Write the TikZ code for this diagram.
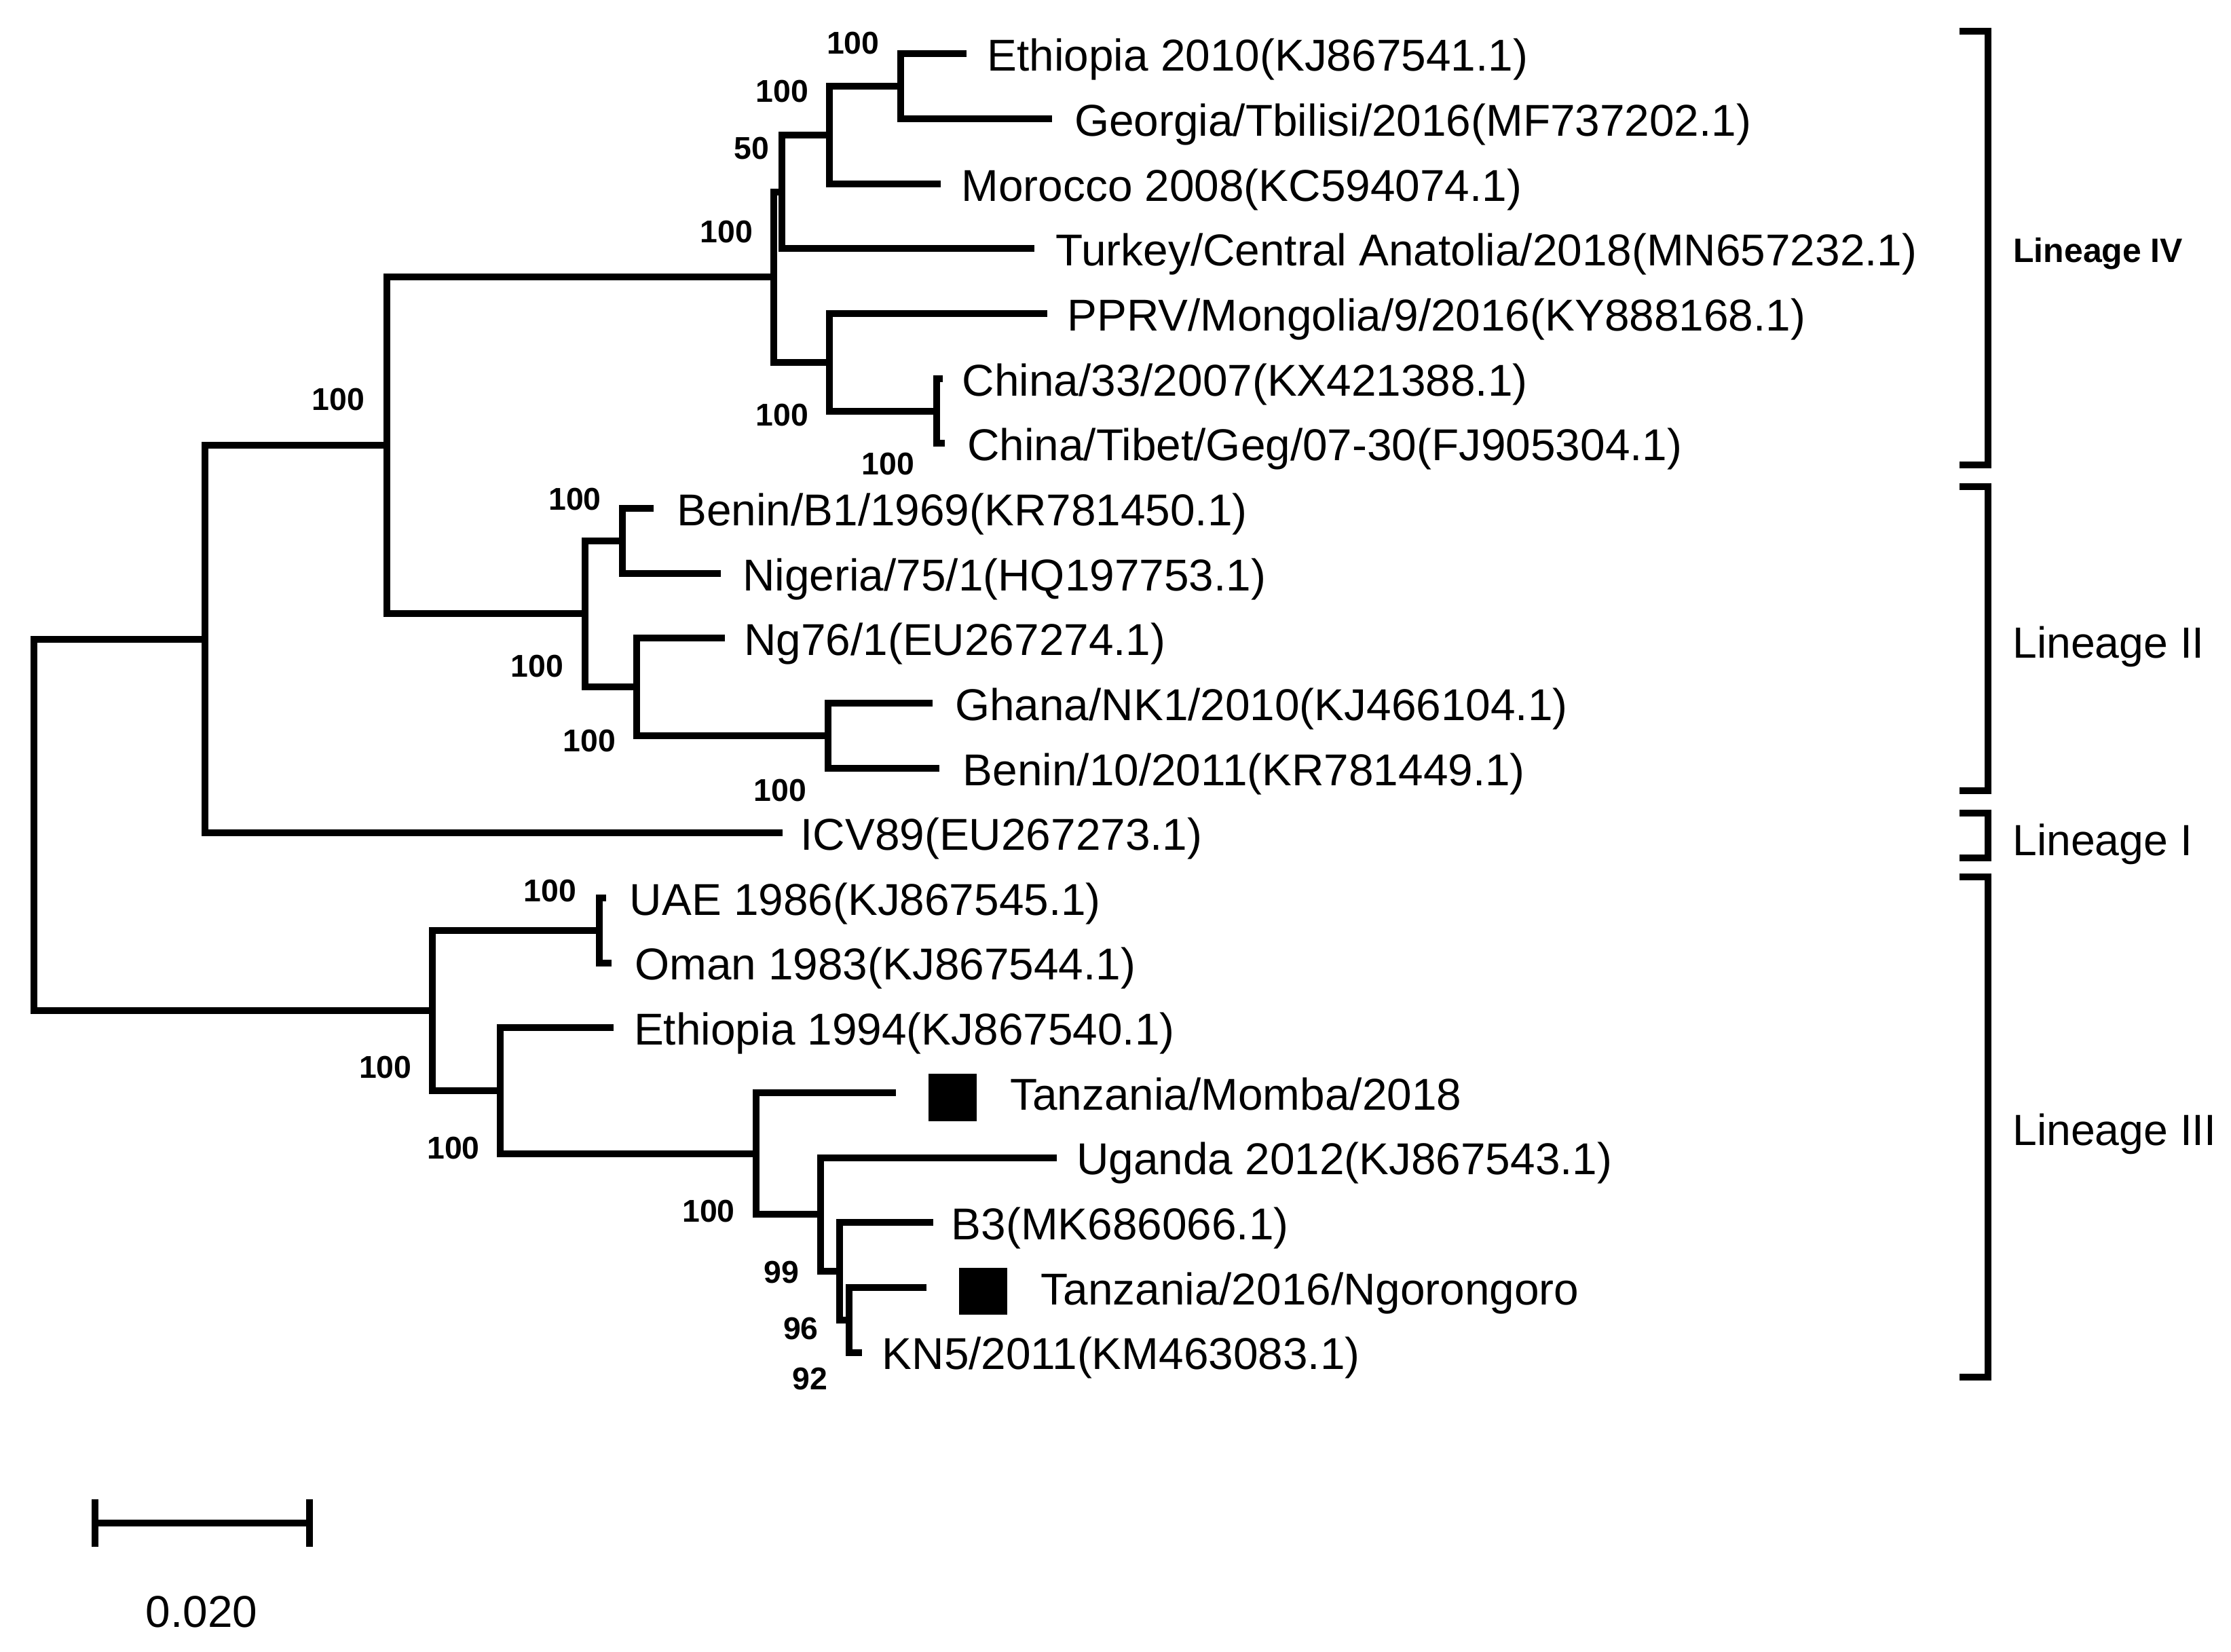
\documentclass[tikz,border=0pt]{standalone}
\usepackage{fontspec}
\newfontfamily\lsans{Liberation Sans}
\newcommand\leaffont{\lsans\fontsize{18.7}{22}\selectfont}
\newcommand\linfont{\lsans\fontsize{18.3}{22}\selectfont}
\newcommand\bsfont{\lsans\bfseries\fontsize{13.2}{15}\selectfont}
\newcommand\livfont{\lsans\bfseries\fontsize{14.2}{16}\selectfont}
\tikzset{
  br/.style={line width=0.1cm, line join=miter, line cap=butt},
  leaf/.style={anchor=base west, inner sep=0pt, font=\leaffont},
  lin/.style={anchor=base west, inner sep=0pt, font=\linfont},
  bs/.style={anchor=center, inner sep=0pt, font=\bsfont},
  sqbox/.style={fill=black, draw=none, inner sep=0pt, minimum width=0.716cm, minimum height=0.695cm},
}
\begin{document}
\begin{tikzpicture}[x=0.0210705cm, y=-0.0210705cm]
\useasboundingbox[fill=white] (0,0) rectangle (1560,1154.7);
% leaf tips
\coordinate (l0) at (676,37.7);
\coordinate (l1) at (735.6,83.1);
\coordinate (l2) at (658,128.5);
\coordinate (l3) at (723.3,173.9);
\coordinate (l4) at (732.4,219.3);
\coordinate (l5) at (659.3,264.7);
\coordinate (l6) at (660.4,310.1);
\coordinate (l7) at (457,355.5);
\coordinate (l8) at (504,400.9);
\coordinate (l9) at (507,446.3);
\coordinate (l10) at (652,491.7);
\coordinate (l11) at (657,537.1);
\coordinate (l12) at (547,582.5);
\coordinate (l13) at (424,627.9);
\coordinate (l14) at (427.5,673.3);
\coordinate (l15) at (429,718.7);
\coordinate (l16) at (626.5,764.1);
\coordinate (l17) at (739,809.5);
\coordinate (l18) at (652.5,854.9);
\coordinate (l19) at (648,900.3);
\coordinate (l20) at (602.5,945.7);
% internal nodes
\coordinate (H) at (630,60.4);
\coordinate (F) at (580,94.45);
\coordinate (E) at (546.5,134.2);
\coordinate (I) at (655,287.4);
\coordinate (G) at (580,253.35);
\coordinate (C) at (541,193.8);
\coordinate (K) at (435,378.2);
\coordinate (M) at (579,514.4);
\coordinate (L) at (445,480.05);
\coordinate (J) at (409,429.1);
\coordinate (B) at (270.5,311.45);
\coordinate (A) at (143.5,446.98);
\coordinate (O) at (419,650.6);
\coordinate (T) at (593.5,923);
\coordinate (S) at (587,888.95);
\coordinate (R) at (574,849.2);
\coordinate (Q) at (528.5,806.7);
\coordinate (P) at (350,762.7);
\coordinate (N) at (302.5,706.6);
\coordinate (root) at (23.6,576.8);
% branches
\draw[br] (A) -| (root) |- (N);
\draw[br] (B) -| (A) |- (l12);
\draw[br] (C) -| (B) |- (J);
\draw[br] (E) -| (C) |- (G);
\draw[br] (F) -| (E) |- (l3);
\draw[br] (H) -| (F) |- (l2);
\draw[br] (l0) -| (H) |- (l1);
\draw[br] (l4) -| (G) |- (I);
\draw[br] (l5) -| (I) |- (l6);
\draw[br] (K) -| (J) |- (L);
\draw[br] (l7) -| (K) |- (l8);
\draw[br] (l9) -| (L) |- (M);
\draw[br] (l10) -| (M) |- (l11);
\draw[br] (O) -| (N) |- (P);
\draw[br] (l13) -| (O) |- (l14);
\draw[br] (l15) -| (P) |- (Q);
\draw[br] (l16) -| (Q) |- (R);
\draw[br] (l17) -| (R) |- (S);
\draw[br] (l18) -| (S) |- (T);
\draw[br] (l19) -| (T) |- (l20);
% leaf labels
\node[leaf] (t0) at (690,49.7) {Ethiopia 2010(KJ867541.1)};
\node[leaf] (t1) at (751,95.1) {Georgia/Tbilisi/2016(MF737202.1)};
\node[leaf] (t2) at (672,140.5) {Morocco 2008(KC594074.1)};
\node[leaf] (t3) at (738,185.9) {Turkey/Central Anatolia/2018(MN657232.1)};
\node[leaf] (t4) at (746,231.3) {PPRV/Mongolia/9/2016(KY888168.1)};
\node[leaf] (t5) at (672.5,276.7) {China/33/2007(KX421388.1)};
\node[leaf] (t6) at (676,322.1) {China/Tibet/Geg/07-30(FJ905304.1)};
\node[leaf] (t7) at (473,367.5) {Benin/B1/1969(KR781450.1)};
\node[leaf] (t8) at (519,412.9) {Nigeria/75/1(HQ197753.1)};
\node[leaf] (t9) at (520,458.3) {Ng76/1(EU267274.1)};
\node[leaf] (t10) at (667.5,503.7) {Ghana/NK1/2010(KJ466104.1)};
\node[leaf] (t11) at (673,549.1) {Benin/10/2011(KR781449.1)};
\node[leaf] (t12) at (559.5,594.5) {ICV89(EU267273.1)};
\node[leaf] (t13) at (440,639.9) {UAE 1986(KJ867545.1)};
\node[leaf] (t14) at (443.5,685.3) {Oman 1983(KJ867544.1)};
\node[leaf] (t15) at (443,730.7) {Ethiopia 1994(KJ867540.1)};
\node[leaf] (t16) at (706,776.1) {Tanzania/Momba/2018};
\node[leaf] (t17) at (752.5,821.5) {Uganda 2012(KJ867543.1)};
\node[leaf] (t18) at (665,866.9) {B3(MK686066.1)};
\node[leaf] (t19) at (727.5,912.3) {Tanzania/2016/Ngorongoro};
\node[leaf] (t20) at (616.5,957.7) {KN5/2011(KM463083.1)};
% markers
\node[sqbox] (q1) at (666,767.5) {};
\node[sqbox] (q2) at (687.5,903) {};
% bootstrap values
\node[bs] (b1) at (596.5,30) {100};
\node[bs] (b2) at (547,64) {100};
\node[bs] (b3) at (525.5,103.5) {50};
\node[bs] (b4) at (508,162) {100};
\node[bs] (b5) at (236.5,279.5) {100};
\node[bs] (b6) at (547,290) {100};
\node[bs] (b7) at (621,324.5) {100};
\node[bs] (b8) at (402,349) {100};
\node[bs] (b9) at (375.5,466) {100};
\node[bs] (b10) at (412,518) {100};
\node[bs] (b11) at (545.5,552.5) {100};
\node[bs] (b12) at (384.5,623) {100};
\node[bs] (b13) at (269.5,746.5) {100};
\node[bs] (b14) at (317,803) {100};
\node[bs] (b15) at (495.5,847) {100};
\node[bs] (b16) at (546.5,889.5) {99};
\node[bs] (b17) at (560,929) {96};
\node[bs] (b18) at (566.5,964) {92};
% lineage brackets
\coordinate (k4a) at (1370,22);   \coordinate (k4b) at (1370,325);
\coordinate (k2a) at (1370,340.5); \coordinate (k2b) at (1370,553);
\coordinate (k1a) at (1370,568.5); \coordinate (k1b) at (1370,600);
\coordinate (k3a) at (1370,613);  \coordinate (k3b) at (1370,963);
\draw[br] (k4a) -- ++(20,0) |- (k4b);
\draw[br] (k2a) -- ++(20,0) |- (k2b);
\draw[br] (k1a) -- ++(20,0) |- (k1b);
\draw[br] (k3a) -- ++(20,0) |- (k3b);
\node[anchor=base west, inner sep=0pt, font=\livfont] (g4) at (1407.5,183.5) {Lineage IV};
\node[lin] (g2) at (1407,460) {Lineage II};
\node[lin] (g1) at (1407,598) {Lineage I};
\node[lin] (g3) at (1407,801) {Lineage III};
% scale bar
\coordinate (sbL) at (66.4,1065);
\coordinate (sbR) at (216.2,1065);
\draw[br] (sbL) -- (sbR);
\draw[br] ([yshift=-10]sbL) -- ([yshift=10]sbL);
\draw[br] ([yshift=-10]sbR) -- ([yshift=10]sbR);
\node[anchor=center, inner sep=0pt, font=\leaffont] (sbt) at (141,1127) {0.020};
\end{tikzpicture}
\end{document}
